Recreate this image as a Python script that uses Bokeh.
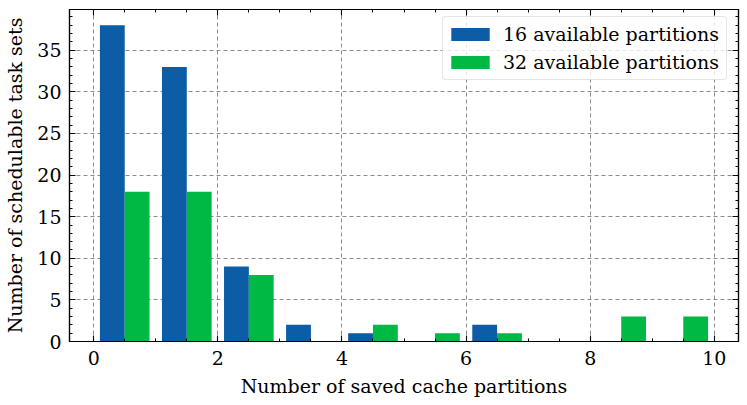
from bokeh.plotting import figure
from bokeh.models import (LinearAxis, SingleIntervalTicker, Range1d, Legend, LegendItem,
                          ColumnDataSource, CustomJSTickFormatter)
from bokeh.embed import file_html
from bokeh.resources import INLINE

# ---- data ----
bin_left = [0, 1, 2, 3, 4, 5, 6, 7, 8, 9]
bin_width = 1.0
counts_16 = [38, 33, 9, 2, 1, 0, 2, 0, 0, 0]
counts_32 = [18, 18, 8, 0, 2, 1, 1, 0, 3, 3]
labels = ["16 available partitions", "32 available partitions"]
x_ticks = [0, 2, 4, 6, 8, 10]
y_ticks = [0, 5, 10, 15, 20, 25, 30, 35]

BLUE = "#0C5DA5"
GREEN = "#00B945"
FONT = "DejaVu Serif"
FS = "19px"

rwidth = 0.8
bar_w = bin_width * rwidth / 2
off = bin_width * (1 - rwidth) / 2

x16 = [b + off + bar_w / 2 for b in bin_left]
x32 = [b + off + bar_w * 1.5 for b in bin_left]

xmin = bin_left[0] + off
xmax = bin_left[-1] + bin_width - off
xm = 0.05 * (xmax - xmin)
ymax = max(max(counts_16), max(counts_32))

W, H = 745, 403
p = figure(width=W, height=H, output_backend="svg", toolbar_location=None,
           x_range=Range1d(xmin - xm, xmax + xm), y_range=Range1d(0, ymax * 1.05),
           x_axis_location=None, y_axis_location=None,
           min_border_left=69, min_border_right=W - 738, min_border_top=9,
           min_border_bottom=H - 341)
p.outline_line_color = "black"
p.outline_line_width = 1.2
p.background_fill_color = "white"
p.border_fill_color = "white"

xt = SingleIntervalTicker(interval=2, num_minor_ticks=4)
yt = SingleIntervalTicker(interval=5, num_minor_ticks=5)


def style_axis(ax, show_labels):
    ax.major_tick_in = 6
    ax.major_tick_out = 0
    ax.minor_tick_in = 3
    ax.minor_tick_out = 0
    ax.axis_line_color = "black"
    ax.axis_line_width = 1.2
    ax.major_tick_line_width = 1.1
    ax.minor_tick_line_width = 1.0
    if show_labels:
        ax.major_label_text_font = FONT
        ax.major_label_text_font_size = FS
        ax.major_label_text_color = "black"
        ax.axis_label_text_font = FONT
        ax.axis_label_text_font_size = FS
        ax.axis_label_text_font_style = "normal"
        ax.axis_label_text_color = "black"
    else:
        ax.formatter = CustomJSTickFormatter(code="return ''")
        ax.major_label_standoff = 0
        ax.axis_label = None


xb = LinearAxis(ticker=xt, axis_label="Number of saved cache partitions")
style_axis(xb, True)
xb.major_label_standoff = 9
xb.axis_label_standoff = 7
p.add_layout(xb, "below")

yl = LinearAxis(ticker=yt, axis_label="Number of schedulable task sets")
style_axis(yl, True)
yl.major_label_standoff = 8
yl.axis_label_standoff = 8
p.add_layout(yl, "left")

xa = LinearAxis(ticker=xt)
style_axis(xa, False)
p.add_layout(xa, "above")
yr = LinearAxis(ticker=yt)
style_axis(yr, False)
p.add_layout(yr, "right")

p.xgrid.ticker = xt
p.ygrid.ticker = yt
for g in (p.xgrid, p.ygrid):
    g.grid_line_color = "#8a8a8a"
    g.grid_line_dash = "4 3"
    g.grid_line_width = 1

src = ColumnDataSource(dict(x16=x16, x32=x32, c16=counts_16, c32=counts_32))
r16 = p.vbar(x="x16", top="c16", width=bar_w, bottom=0, source=src,
             fill_color=BLUE, line_color=None)
r32 = p.vbar(x="x32", top="c32", width=bar_w, bottom=0, source=src,
             fill_color=GREEN, line_color=None)

legend = Legend(items=[LegendItem(label=labels[0], renderers=[r16]),
                       LegendItem(label=labels[1], renderers=[r32])],
                location=(373, 261))
legend.margin = 0
legend.padding = 3
legend.spacing = 0
legend.glyph_width = 48
legend.glyph_height = 16
legend.label_height = 28
legend.label_width = 220
legend.label_standoff = 9
legend.label_text_font = FONT
legend.label_text_font_size = FS
legend.label_text_color = "black"
legend.border_line_color = "#cccccc"
legend.border_line_width = 1.5
legend.background_fill_alpha = 0.8
if "border_radius" in Legend.properties():
    legend.border_radius = 4
p.add_layout(legend, "center")

open("out.html", "w").write(file_html(p, INLINE))
